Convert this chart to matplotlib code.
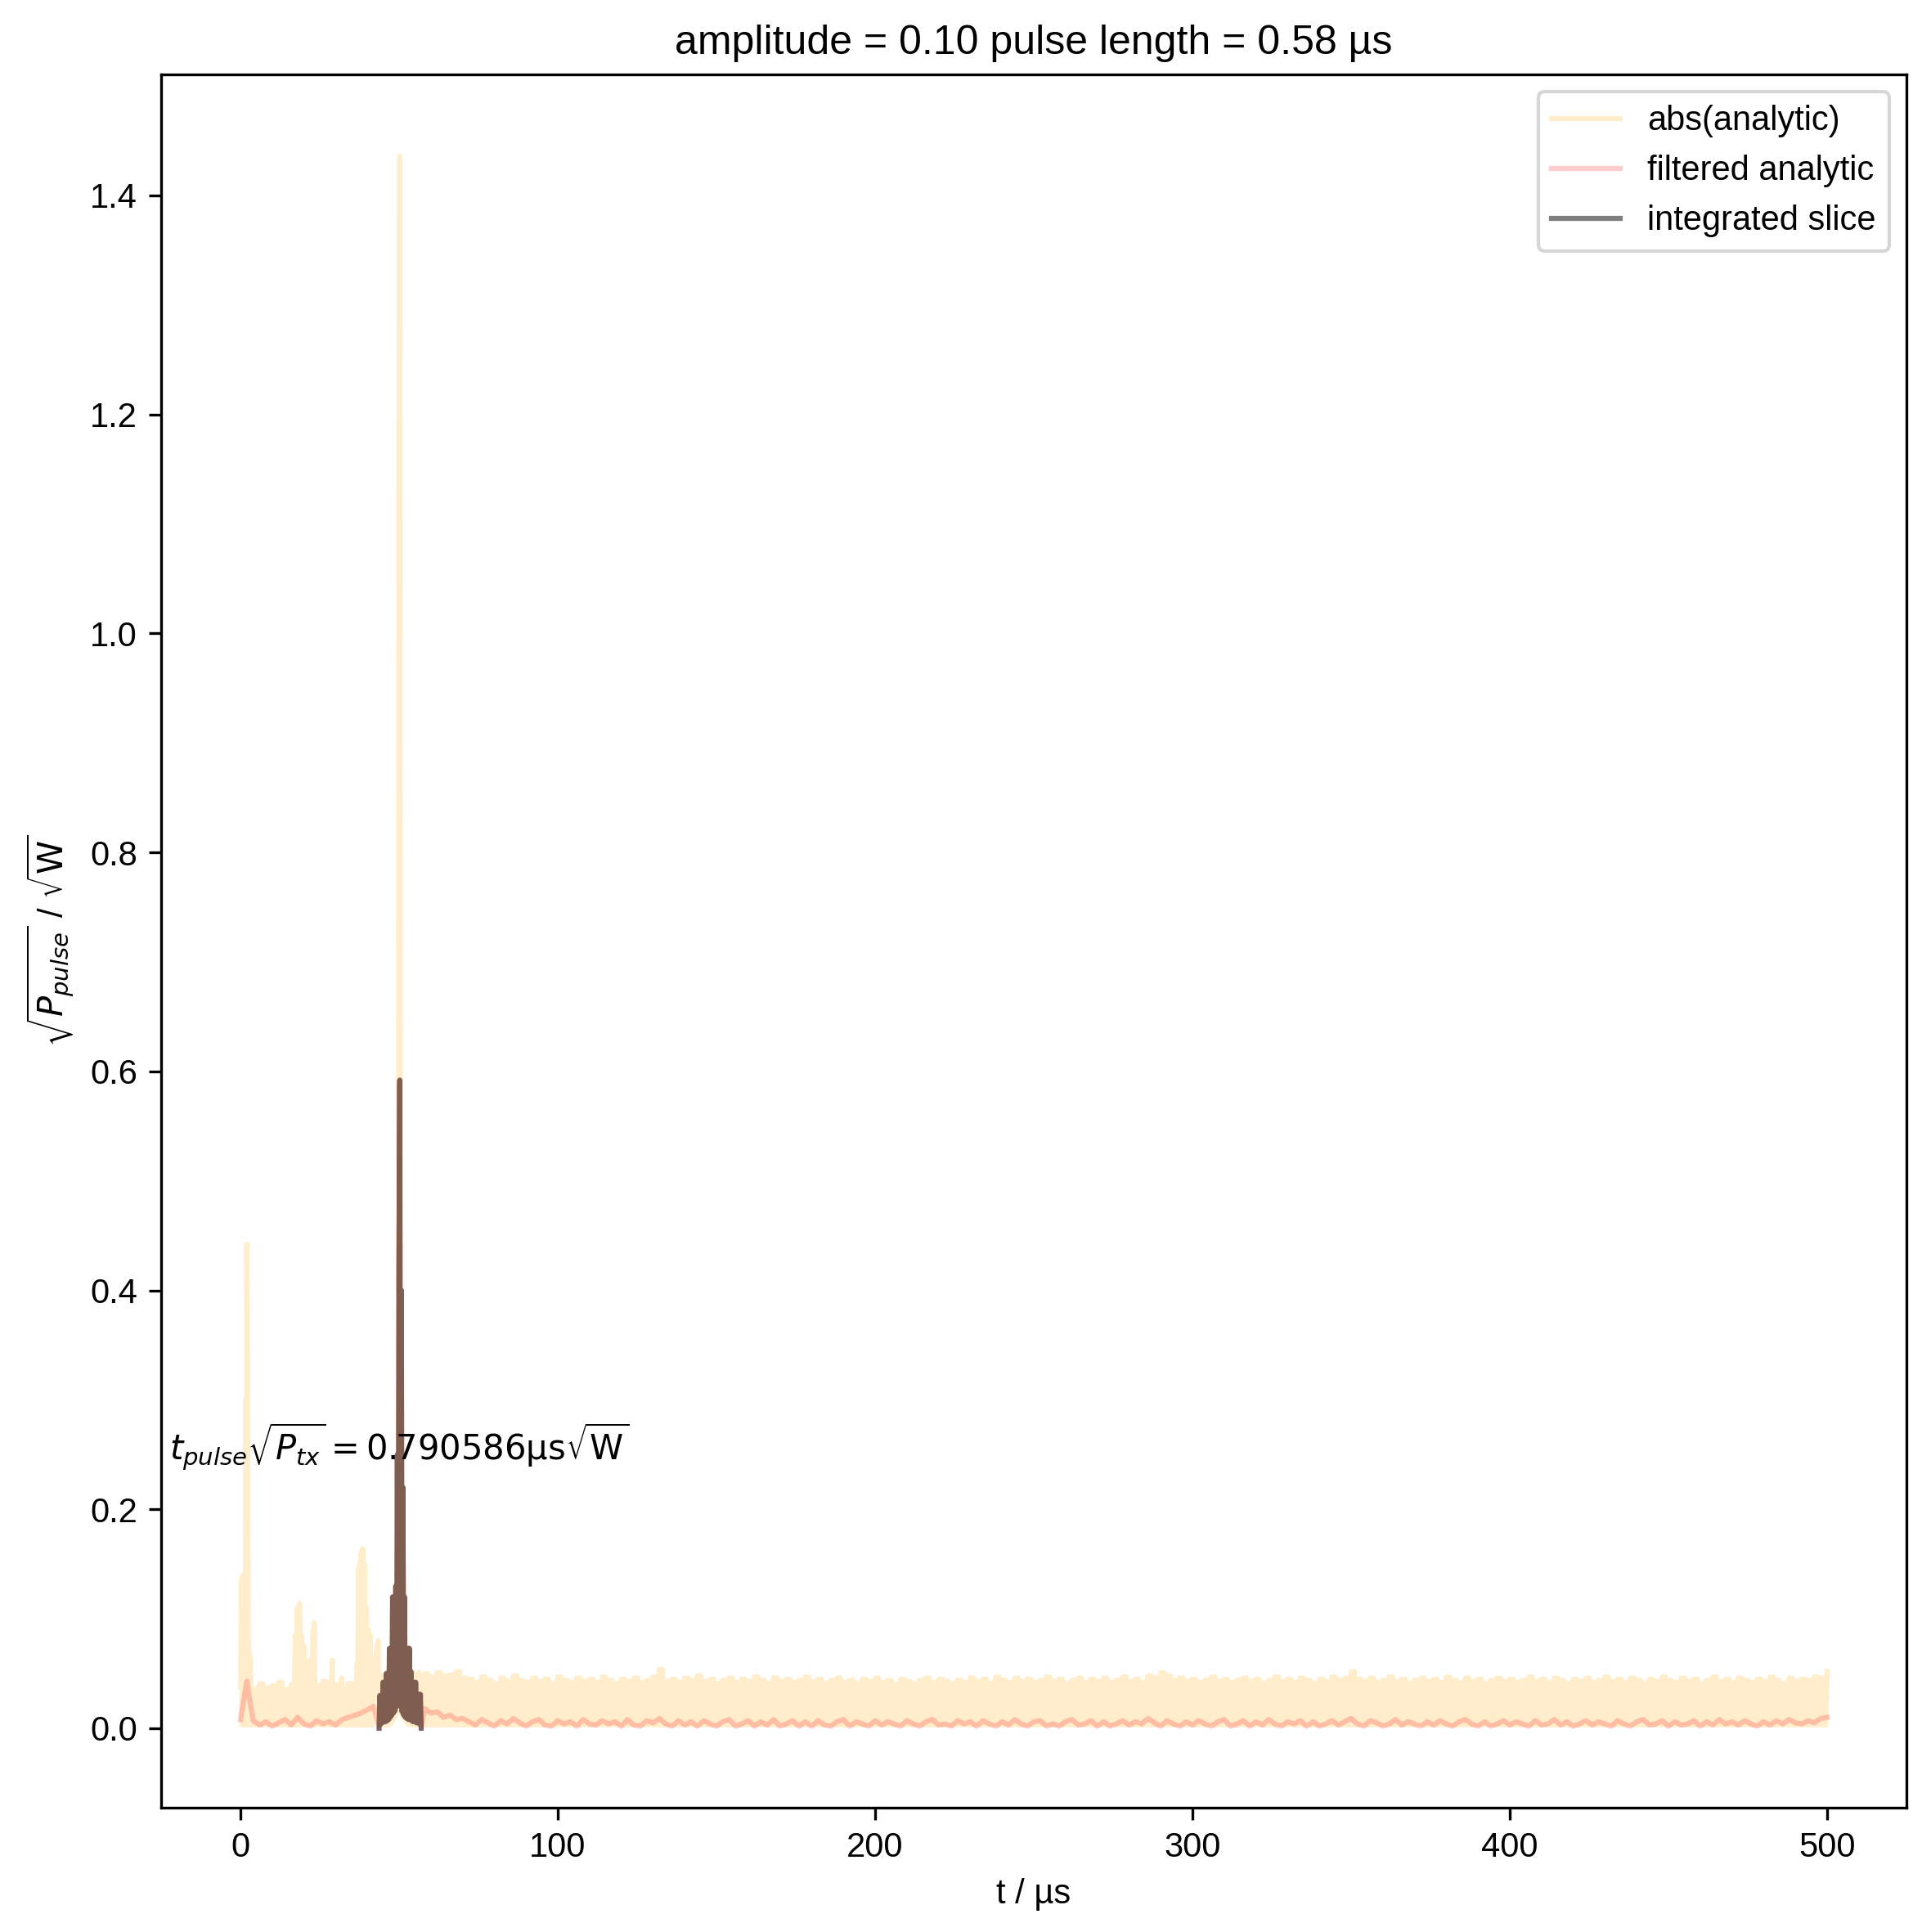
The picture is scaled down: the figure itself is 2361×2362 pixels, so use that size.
"""
Pulse envelope plot: abs(analytic), filtered analytic and the integrated slice
around the main pulse, with the pulse-energy annotation.
"""

import numpy as np
import matplotlib.pyplot as plt

plt.rcParams["font.family"] = ["Liberation Sans", "DejaVu Sans"]

OUTPUT_FILE = "out.png"

TITLE = "amplitude = 0.10 pulse length = 0.58 µs"
X_LABEL = "t / µs"
Y_LABEL = r"$\sqrt{P_{pulse}}$ / $\sqrt{\mathrm{W}}$"
ANNOTATION = r"$t_{pulse}\sqrt{P_{tx}} = 0.790586\mathrm{µs}\sqrt{\mathrm{W}}$"
LEGEND_LABELS = ["abs(analytic)", "filtered analytic", "integrated slice"]

# Noise band of abs(analytic): upper edge every 2 µs (values in 1e-3 sqrt(W))
band_t_left = np.arange(0, 43, 2)          # 0 .. 42 µs
band_hi_left = [38, 40, 36, 41, 37, 39, 42, 36, 40, 38, 41,
                37, 39, 43, 38, 40, 36, 41, 39, 42, 40, 44]
band_t_right = np.arange(58, 501, 2)       # 58 .. 500 µs
band_hi_right = [
    50, 47, 51, 48, 49, 52, 46,
    45, 42, 47, 44, 41, 46, 43, 48, 44, 42,
    46, 43, 45, 41, 47, 44, 42, 46, 43, 45,
    42, 47, 44, 41, 45, 43, 46, 42, 44, 47,
    54, 43, 45, 42, 46, 44, 48, 43, 45, 41,
    44, 46, 42, 45, 43, 47, 44, 41, 46, 43,
    45, 42, 44, 47, 43, 45, 41, 44, 46, 42,
    44, 41, 45, 43, 46, 42, 44, 40, 45, 43,
    41, 44, 46, 42, 45, 43, 41, 44, 42, 46,
    43, 45, 41, 47, 44, 42, 46, 43, 45, 42,
    44, 47, 43, 45, 41, 44, 46, 42, 45, 43,
    46, 42, 44, 47, 43, 45, 42, 48, 46, 51,
    48, 44, 46, 43, 45, 42, 44, 47, 43, 45,
    42, 44, 46, 43, 45, 41, 44, 47, 43, 45,
    42, 46, 44, 41, 45, 43, 47, 44, 46, 52,
    45, 43, 46, 42, 44, 47, 43, 45, 41, 44,
    46, 43, 45, 42, 47, 44, 42, 46, 43, 45,
    41, 44, 46, 43, 45, 42, 44, 47, 43, 45,
    42, 46, 44, 41, 45, 43, 46, 42, 44, 47,
    43, 45, 42, 46, 44, 41, 45, 43, 47, 44,
    42, 46, 43, 45, 41, 44, 47, 43, 45, 42,
    46, 44, 42, 45, 43, 47, 44, 41, 46, 43,
    45, 44, 47, 46, 52,
]
BAND_FLOOR = 0.003

# Narrow spikes of abs(analytic) before the main pulse (t in µs, value)
spike_t = [0.3, 0.8, 1.3, 1.7, 2.0, 2.3, 2.6, 3.1,
           17.3, 17.9, 18.6, 19.3, 20.0, 20.6,
           21.1, 21.8, 22.9, 23.3, 28.9, 31.9,
           36.6, 37.1, 37.5, 38.0, 38.5, 39.0, 39.6, 40.3, 40.9, 41.4,
           43.0, 43.4]
spike_v = [0.137, 0.140, 0.140, 0.300, 0.442, 0.250, 0.070, 0.066,
           0.085, 0.110, 0.114, 0.085, 0.075, 0.060,
           0.058, 0.062, 0.090, 0.096, 0.062, 0.046,
           0.058, 0.145, 0.150, 0.160, 0.164, 0.150, 0.110, 0.090, 0.085, 0.050,
           0.075, 0.080]

# Filtered analytic away from the pulse, every 2 µs (1e-3 sqrt(W))
filt_left = [8, 43, 7, 3, 6, 2, 5, 8, 3, 10, 4,
             2, 7, 4, 6, 3, 8, 10, 12, 14, 17, 20]
filt_right = [
    18, 14, 15, 10, 12, 8, 9,
    6, 3, 8, 5, 2, 7, 4, 9, 5, 2,
    6, 8, 3, 2, 7, 4, 6, 2, 8, 4,
    3, 7, 4, 6, 2, 8, 3, 2, 7, 5,
    9, 4, 2, 7, 3, 6, 2, 7, 4, 2,
    6, 8, 2, 4, 7, 2, 6, 3, 8, 2,
    4, 7, 2, 6, 2, 7, 3, 2, 6, 8,
    2, 6, 4, 2, 7, 3, 6, 4, 2, 7,
    4, 2, 6, 8, 3, 4, 2, 7, 4, 6,
    2, 7, 4, 2, 6, 3, 8, 4, 2, 6,
    7, 2, 4, 2, 6, 8, 3, 4, 7, 2,
    6, 2, 4, 7, 3, 6, 4, 9, 5, 2,
    7, 4, 2, 6, 3, 7, 4, 2, 6, 8,
    2, 4, 7, 2, 6, 3, 8, 4, 2, 6,
    4, 7, 2, 6, 2, 4, 7, 3, 6, 9,
    4, 2, 7, 5, 2, 4, 8, 3, 6, 4,
    2, 6, 3, 7, 4, 2, 6, 8, 4, 2,
    6, 2, 4, 7, 3, 6, 4, 2, 7, 3,
    4, 8, 3, 6, 2, 4, 7, 3, 6, 4,
    2, 7, 4, 2, 6, 8, 3, 4, 7, 2,
    6, 3, 4, 7, 2, 6, 3, 8, 4, 6,
    3, 7, 4, 2, 6, 3, 7, 4, 8, 5,
    4, 7, 5, 9, 10,
]

# Pulse region, sampled every 0.25 µs from 43.7 µs
core_t = 43.7 + 0.25 * np.arange(54)
slice_v = [0.000, 0.030, 0.004, 0.030, 0.005, 0.042, 0.006, 0.042, 0.006, 0.050,
           0.007, 0.050, 0.008, 0.073, 0.010, 0.073, 0.012, 0.120, 0.014, 0.120,
           0.016, 0.130, 0.020, 0.250, 0.030, 0.420, 0.592, 0.020, 0.400, 0.015,
           0.220, 0.012, 0.120, 0.010, 0.073, 0.009, 0.073, 0.008, 0.073, 0.008,
           0.052, 0.007, 0.042, 0.006, 0.042, 0.006, 0.042, 0.005, 0.031, 0.005,
           0.031, 0.004, 0.031, 0.000]
abs_core_v = [0.003, 0.045, 0.003, 0.046, 0.003, 0.048, 0.003, 0.047, 0.003, 0.050,
              0.003, 0.052, 0.003, 0.073, 0.004, 0.073, 0.006, 0.120, 0.008, 0.120,
              0.010, 0.130, 0.015, 0.250, 0.025, 1.180, 1.436, 0.020, 0.400, 0.012,
              0.220, 0.010, 0.120, 0.008, 0.073, 0.005, 0.073, 0.004, 0.073, 0.003,
              0.052, 0.003, 0.048, 0.003, 0.050, 0.003, 0.047, 0.003, 0.049, 0.003,
              0.051, 0.003, 0.048, 0.003]


def band_zigzag(t, hi, lo):
    """Trace the dense noise band as one line going between its edges."""
    hi = np.asarray(hi, dtype=float) / 1000.0
    low = np.full_like(hi, lo)
    tt = np.column_stack([t, t + 0.5, t + 1.0, t + 1.5]).ravel()
    yy = np.column_stack([hi, low, hi, low]).ravel()
    keep = tt <= t[-1]
    return tt[keep], yy[keep]


def build_abs_series():
    t_left, y_left = band_zigzag(band_t_left, band_hi_left, BAND_FLOOR)
    t_left = np.concatenate([t_left, spike_t])
    y_left = np.concatenate([y_left, spike_v])
    order = np.argsort(t_left, kind="mergesort")
    t_right, y_right = band_zigzag(band_t_right, band_hi_right, BAND_FLOOR)
    t = np.concatenate([t_left[order], core_t, t_right])
    y = np.concatenate([y_left[order], abs_core_v, y_right])
    return t, y


def build_filtered_series():
    t = np.concatenate([band_t_left, core_t, band_t_right])
    y = np.concatenate([np.asarray(filt_left) / 1000.0, slice_v,
                        np.asarray(filt_right) / 1000.0])
    return t, y


def main():
    fig = plt.figure(figsize=(2361 / 300, 2362 / 300), dpi=300)
    ax = fig.add_axes([197 / 2361, 152 / 2362, 2134 / 2361, 2119 / 2362])

    abs_t, abs_y = build_abs_series()
    filt_t, filt_y = build_filtered_series()

    ax.plot(abs_t, abs_y, color="orange", alpha=0.2, label=LEGEND_LABELS[0])
    ax.plot(filt_t, filt_y, color="red", alpha=0.2, label=LEGEND_LABELS[1])
    ax.plot(core_t, slice_v, color="black", alpha=0.5, label=LEGEND_LABELS[2])

    ax.text(-22.5, 0.245, ANNOTATION, fontsize=10)

    ax.set_xlim(-25, 525)
    ax.set_ylim(-0.0725, 1.5105)
    ax.set_title(TITLE, fontsize=12)
    ax.set_xlabel(X_LABEL)
    ax.set_ylabel(Y_LABEL)
    ax.legend(loc="upper right")

    fig.savefig(OUTPUT_FILE, dpi=300)


if __name__ == "__main__":
    main()
